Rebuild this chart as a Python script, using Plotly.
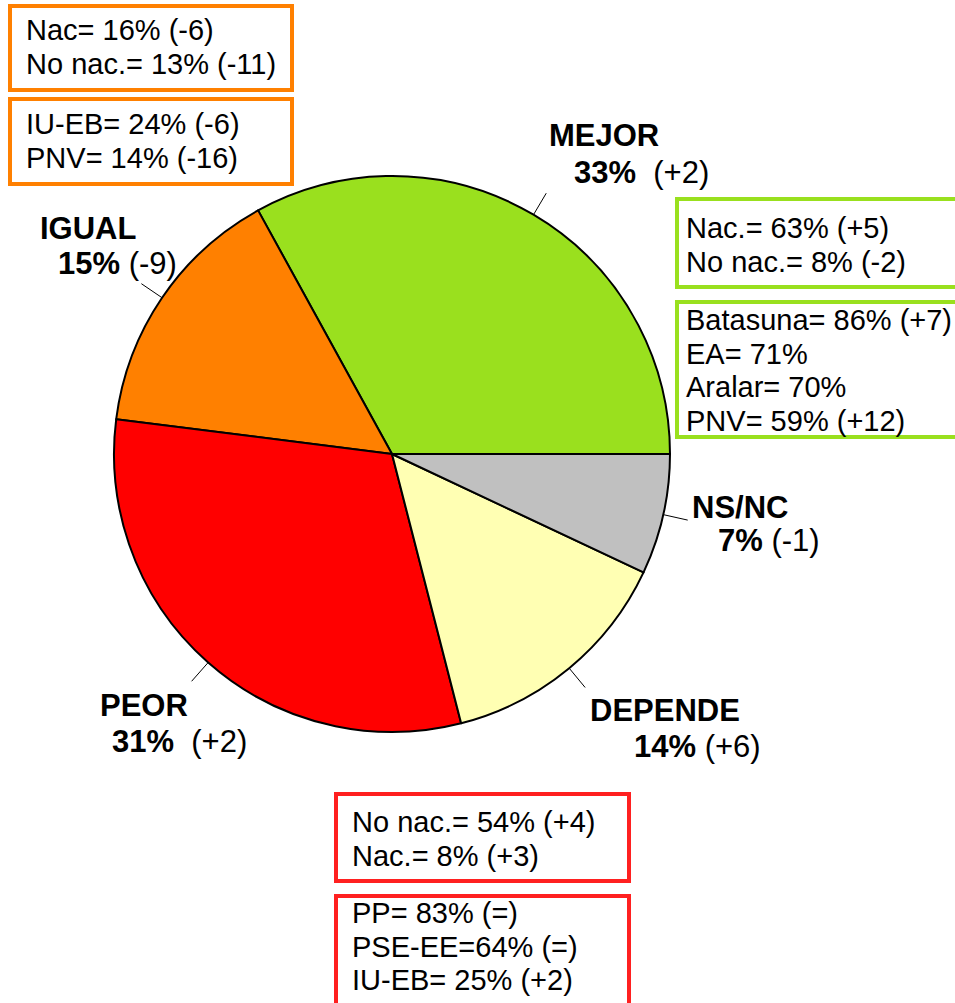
import math
import plotly.graph_objects as go

# Survey answers, shares (%) and change in points
categories = ["MEJOR", "IGUAL", "PEOR", "DEPENDE", "NS/NC"]
values = [33, 15, 31, 14, 7]
changes = ["+2", "-9", "+2", "+6", "-1"]
slice_colors = ["#9AE01E", "#FF8000", "#FF0000", "#FFFFB3", "#C0C0C0"]

# Breakdown boxes per group
igual_box_a = ["Nac= 16% (-6)", "No nac.= 13% (-11)"]
igual_box_b = ["IU-EB= 24% (-6)", "PNV= 14% (-16)"]
mejor_box_a = ["Nac.= 63% (+5)", "No nac.= 8% (-2)"]
mejor_box_b = ["Batasuna= 86% (+7)", "EA= 71%", "Aralar= 70%", "PNV= 59% (+12)"]
peor_box_a = ["No nac.= 54% (+4)", "Nac.= 8% (+3)"]
peor_box_b = ["PP= 83% (=)", "PSE-EE=64% (=)", "IU-EB= 25% (+2)"]

W, H = 955, 1003
CX, CY, R = 392, 454, 278
FONT = "Liberation Sans, Arial, sans-serif"

total = sum(values)
# first slice runs counterclockwise from 3 o'clock
start_rotation = 90 - 360 * values[0] / total

fig = go.Figure()
fig.add_trace(go.Pie(
    labels=categories, values=values, sort=False,
    direction="counterclockwise", rotation=start_rotation,
    marker=dict(colors=slice_colors, line=dict(color="black", width=2)),
    textinfo="none", hoverinfo="skip", showlegend=False,
    domain=dict(x=[(CX - R) / W, (CX + R) / W],
                y=[1 - (CY + R) / H, 1 - (CY - R) / H]),
))

shapes = []
annotations = []

# Leader lines from each slice's mid-angle
cum = 0
for v in values:
    theta = 2 * math.pi * (cum + v / 2) / total
    cum += v
    c, s = math.cos(theta), math.sin(theta)
    shapes.append(dict(type="line", xref="x", yref="y",
                       x0=CX + R * c, y0=CY - R * s,
                       x1=CX + (R + 25) * c, y1=CY - (R + 25) * s,
                       line=dict(color="black", width=1)))

# Slice labels: name (bold) and share with change
label_pos = {
    "MEJOR": ((547, 135), (572, 172), "&nbsp;&nbsp;"),
    "IGUAL": ((38, 228), (56, 263), " "),
    "PEOR": ((98, 705), (110, 741), "&nbsp;&nbsp;"),
    "DEPENDE": ((588, 710), (632, 746), " "),
    "NS/NC": ((690, 507), (716, 540), " "),
}
for cat, v, ch in zip(categories, values, changes):
    (nx, ny), (vx, vy), gap = label_pos[cat]
    annotations.append(dict(xref="x", yref="y", x=nx, y=ny, xanchor="left",
                            yanchor="middle", showarrow=False,
                            text=f"<b>{cat}</b>",
                            font=dict(family=FONT, size=31, color="black")))
    annotations.append(dict(xref="x", yref="y", x=vx, y=vy, xanchor="left",
                            yanchor="middle", showarrow=False,
                            text=f"<b>{v}%</b>{gap}({ch})",
                            font=dict(family=FONT, size=31, color="black")))

# Framed breakdown boxes
boxes = [
    (igual_box_a, "#FF8000", (10, 6, 292, 90), 24, 30),
    (igual_box_b, "#FF8000", (10, 99, 292, 184), 24, 124),
    (mejor_box_a, "#99E01E", (677, 199, 975, 287), 684, 228),
    (mejor_box_b, "#99E01E", (677, 302, 975, 437), 684, 320),
    (peor_box_a, "#FF2020", (336, 794, 629, 881), 350, 822),
    (peor_box_b, "#FF2020", (336, 896, 629, 1020), 350, 913),
]
LINE_STEP = 33.5
for lines, col, (x0, y0, x1, y1), tx, ty in boxes:
    shapes.append(dict(type="rect", xref="x", yref="y", x0=x0, y0=y0,
                       x1=x1, y1=y1, line=dict(color=col, width=4),
                       fillcolor="rgba(0,0,0,0)"))
    for i, t in enumerate(lines):
        annotations.append(dict(xref="x", yref="y", x=tx, y=ty + i * LINE_STEP,
                                xanchor="left", yanchor="middle",
                                showarrow=False, text=t,
                                font=dict(family=FONT, size=29, color="black")))

fig.update_layout(
    width=W, height=H, margin=dict(l=0, r=0, t=0, b=0),
    paper_bgcolor="white", plot_bgcolor="rgba(0,0,0,0)",
    xaxis=dict(range=[0, W], visible=False, fixedrange=True),
    yaxis=dict(range=[H, 0], visible=False, fixedrange=True),
    shapes=shapes, annotations=annotations,
)

fig.write_html("out.html", config={"displayModeBar": False})
